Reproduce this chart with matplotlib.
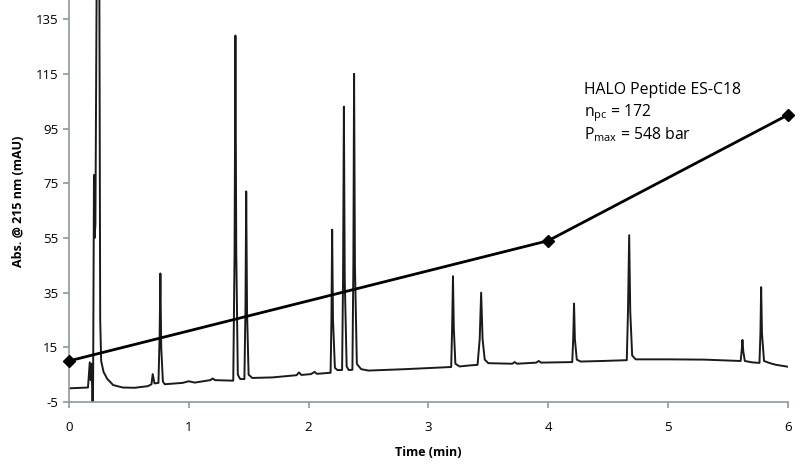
import matplotlib.pyplot as plt

# chromatogram trace (time in min, absorbance in mAU)
trace_time = [
    0.00, 0.16, 0.175, 0.182, 0.19, 0.198, 0.203, 0.21, 0.215, 0.222, 0.232, 0.255,
    0.262, 0.27, 0.29, 0.32, 0.37, 0.45, 0.55, 0.66, 0.69, 0.70, 0.715, 0.748,
    0.758, 0.764, 0.771, 0.785, 0.80, 0.95, 1.0, 1.05, 1.18, 1.2, 1.22, 1.372,
    1.383, 1.39, 1.397, 1.41, 1.43, 1.465, 1.474, 1.48, 1.487, 1.50, 1.53, 1.7,
    1.9, 1.92, 1.94, 2.02, 2.05, 2.07, 2.184, 2.191, 2.197, 2.204, 2.22, 2.24,
    2.28, 2.288, 2.295, 2.302, 2.318, 2.335, 2.366, 2.374, 2.38, 2.387, 2.403, 2.42,
    2.44, 2.5, 2.8, 3.19, 3.198, 3.205, 3.212, 3.225, 3.26, 3.35, 3.41, 3.428,
    3.44, 3.452, 3.47, 3.5, 3.7, 3.72, 3.74, 3.9, 3.92, 3.94, 4.2, 4.208,
    4.215, 4.222, 4.238, 4.27, 4.45, 4.655, 4.665, 4.675, 4.684, 4.70, 4.73, 5.0,
    5.3, 5.605, 5.613, 5.62, 5.627, 5.64, 5.7, 5.762, 5.77, 5.776, 5.783, 5.8,
    5.85, 5.9, 6.0,
]
trace_abs = [
    0.0, 0.3, 9.5, 3.0, 9.0, -6.0, 3.0, 78.0, 55.0, 60.0, 145.0, 145.0,
    25.0, 10.0, 6.0, 3.5, 1.2, 0.3, 0.2, 0.8, 1.5, 5.2, 1.8, 2.0,
    20.0, 42.0, 15.0, 2.5, 1.5, 2.0, 2.6, 2.1, 3.0, 3.6, 3.0, 2.8,
    50.0, 129.0, 50.0, 5.0, 3.4, 3.4, 30.0, 72.0, 28.0, 5.0, 3.8, 4.0,
    4.8, 5.8, 4.9, 5.2, 6.0, 5.3, 5.7, 25.0, 58.0, 25.0, 7.5, 6.7,
    6.7, 40.0, 103.0, 40.0, 8.0, 6.7, 6.8, 45.0, 115.0, 45.0, 9.0, 8.0,
    7.0, 6.5, 7.0, 7.8, 22.0, 41.0, 22.0, 9.0, 8.0, 8.4, 8.6, 18.0,
    35.0, 18.0, 10.5, 9.2, 9.0, 9.6, 9.0, 9.4, 10.0, 9.4, 9.6, 18.0,
    31.0, 18.0, 10.5, 9.8, 10.0, 10.3, 28.0, 56.0, 28.0, 12.0, 10.6, 10.6,
    10.5, 10.0, 13.5, 17.7, 13.5, 10.0, 9.5, 9.3, 20.0, 37.0, 20.0, 10.0,
    9.2, 8.6, 7.9,
]

# gradient profile points
grad_time = [0, 4, 6]
grad_val = [10, 54, 100]

y_ticks = [-5, 15, 35, 55, 75, 95, 115, 135]
x_ticks = [0, 1, 2, 3, 4, 5, 6]

plt.rcParams['font.family'] = ['Open Sans', 'DejaVu Sans']
plt.rcParams['axes.unicode_minus'] = False

fig, ax = plt.subplots(figsize=(8, 4.68), dpi=100)
fig.subplots_adjust(left=0.086, right=0.985, bottom=0.141, top=1.0)

ax.plot(trace_time, trace_abs, color='#1a1a1a', lw=1.4, solid_joinstyle='round')
ax.plot(grad_time, grad_val, color='black', lw=2, marker='D', markersize=6,
        clip_on=False, zorder=5)

ax.set_xlim(0, 6)
ax.set_ylim(-5, 142)
ax.set_xticks(x_ticks)
ax.set_yticks(y_ticks)

spine_col = '#8c9a9a'
for side in ['top', 'right']:
    ax.spines[side].set_visible(False)
for side in ['left', 'bottom']:
    ax.spines[side].set_color(spine_col)
    ax.spines[side].set_linewidth(1.2)
ax.tick_params(colors=spine_col, labelcolor='black', labelsize=9.5, length=4, width=1.2)
ax.tick_params(axis='x', pad=10)

ax.set_xlabel('Time (min)', fontsize=9, fontweight='bold', labelpad=8)
ax.set_ylabel('Abs. @ 215 nm (mAU)', fontsize=9, fontweight='bold', labelpad=8)

ax.text(4.30, 107.5, 'HALO Peptide ES-C18', fontsize=11.3)
ax.text(4.30, 99.5, r'n$_{\mathregular{pc}}$ = 172', fontsize=11.3)
ax.text(4.30, 91, r'P$_{\mathregular{max}}$ = 548 bar', fontsize=11.3)

fig.savefig('out.png', dpi=100)
